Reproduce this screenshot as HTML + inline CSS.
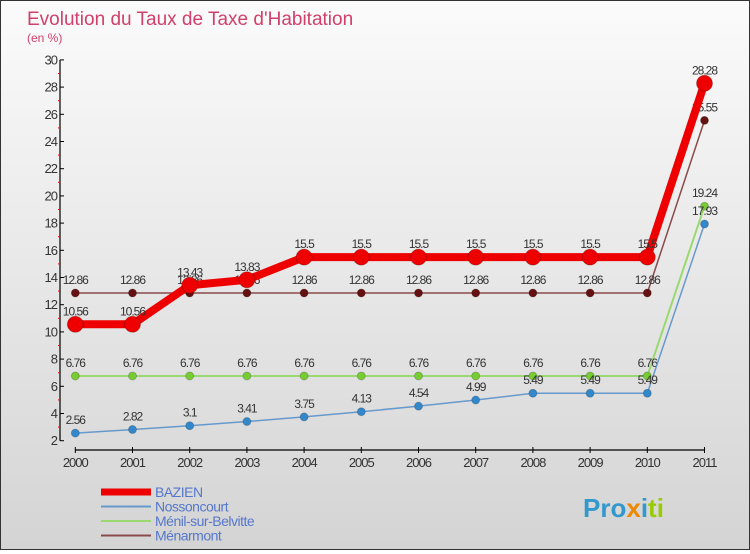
<!DOCTYPE html>
<html><head><meta charset="utf-8"><style>
body{margin:0;width:750px;height:550px;overflow:hidden;font-family:"Liberation Sans",sans-serif}
#wrap{position:relative;width:748px;height:548px;border:1px solid #333;background:linear-gradient(#fbfbfb,#d4d4d4)}
</style></head><body>
<div id="wrap">
<svg id="chart" width="748" height="548"></svg>
</div>
<script>
const years=["2000","2001","2002","2003","2004","2005","2006","2007","2008","2009","2010","2011"];
const bazien=[10.56,10.56,13.43,13.83,15.5,15.5,15.5,15.5,15.5,15.5,15.5,28.28];
const nossoncourt=[2.56,2.82,3.1,3.41,3.75,4.13,4.54,4.99,5.49,5.49,5.49,17.93];
const menil=[6.76,6.76,6.76,6.76,6.76,6.76,6.76,6.76,6.76,6.76,6.76,19.24];
const menarmont=[12.86,12.86,12.86,12.86,12.86,12.86,12.86,12.86,12.86,12.86,12.86,25.55];
const yTicks=[2,4,6,8,10,12,14,16,18,20,22,24,26,28,30];
const NS="http://www.w3.org/2000/svg",svg=document.getElementById('chart');
function el(t,a,p){const e=document.createElementNS(NS,t);for(const k in a)e.setAttribute(k,a[k]);(p||svg).appendChild(e);return e;}
const X=i=>74.3+i*57.2, Y=v=>439.7-(v-2)*13.6;
let t=el('text',{x:26,y:24,'font-size':19,fill:'#d0406a'});t.textContent="Evolution du Taux de Taxe d'Habitation";


t=el('text',{x:26,y:41,'font-size':12,fill:'#d0406a'});t.textContent="(en %)";


let ax=el('line',{x1:59,y1:Y(30),x2:59,y2:Y(2),stroke:'#000','stroke-width':1.2});


yTicks.forEach(v=>{el('line',{x1:59,y1:Y(v),x2:63,y2:Y(v),stroke:'#000'});
 if(v<30)el('line',{x1:57,y1:Y(v+1),x2:59,y2:Y(v+1),stroke:'red'});
 const l=el('text',{x:56,y:Y(v)+4.5,'font-size':13,'text-anchor':'end',fill:'#333','letter-spacing':-1});l.textContent=v;
 
 });
let xa=el('line',{x1:X(0),y1:449,x2:X(11),y2:449,stroke:'#000','stroke-width':1.2});


years.forEach((y,i)=>{el('line',{x1:X(i),y1:446,x2:X(i),y2:452,stroke:'#000'});
 const l=el('text',{x:X(i),y:466,'font-size':13,'text-anchor':'middle',fill:'#333','letter-spacing':-1});l.textContent=y;
 
 });
function series(d,col,w,r,name,lab){
 const g=el('g',{});
 
 
 el('polyline',{points:d.map((v,i)=>X(i)+','+Y(v)).join(' '),fill:'none',stroke:col,'stroke-width':w,'stroke-linejoin':'round'},g);
 d.forEach((v,i)=>{const c=el('circle',{cx:X(i),cy:Y(v),r:r,fill:lab,stroke:'rgba(0,0,0,0.2)'},g);
  
  
  const tx=el('text',{x:X(i),y:Y(v)-9,'font-size':12,'text-anchor':'middle',fill:'#333','letter-spacing':-1},g);tx.textContent=v;});
}
series(menil,'#9ad870',2,4,'menil-series','#77cc33');
series(nossoncourt,'#6699cc',1.5,4,'nossoncourt-series','#3388cc');
series(menarmont,'#8a4a4a',1.5,4,'menarmont-series','#661111');
series(bazien,'#ee0000',8,8,'bazien-series','#ee0000');
const leg=[['BAZIEN','#ee0000',7],['Nossoncourt','#6699cc',2],['Ménil-sur-Belvitte','#9ad870',2],['Ménarmont','#8a4a4a',2]];
leg.forEach((l,i)=>{const g=el('g',{});
 
 
 const y=491+i*14.5;el('line',{x1:100,y1:y,x2:150,y2:y,stroke:l[1],'stroke-width':l[2]},g);
 const tx=el('text',{x:154,y:y+5,'font-size':14,fill:'#5577cc','letter-spacing':-0.5},g);tx.textContent=l[0];});
const lg=el('text',{x:582,y:516,'font-size':26,'font-weight':'bold',fill:'#3399cc'});


lg.innerHTML='Pro<tspan fill="#ee8800">x</tspan><tspan fill="#3399cc">i</tspan><tspan fill="#99cc00">ti</tspan>';
</script>
</body></html>
